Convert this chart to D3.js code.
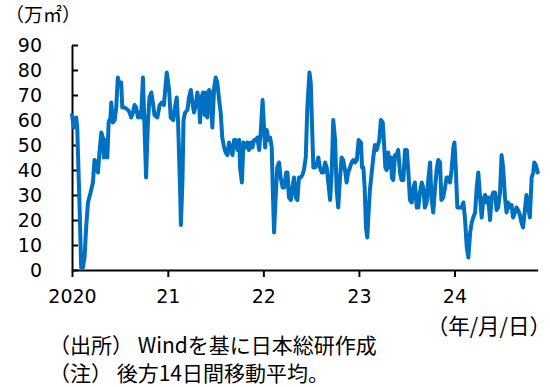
<!DOCTYPE html>
<html>
<head>
<meta charset="utf-8">
<script src="https://cdn.jsdelivr.net/npm/d3@7"></script>
<style>
  html, body { margin: 0; padding: 0; background: #fff; }
  svg { display: block; }
</style>
</head>
<body>
<svg id="chart" width="550" height="387"></svg>
<script>
// Daily transaction area, 14-day trailing moving average (10,000 m²)
const s2020 = [
  ["2020-01-01",62],["2020-01-08",57],["2020-01-17",61],["2020-01-21",57],["2020-01-30",25],
  ["2020-02-05",1],["2020-02-12",1],["2020-02-18",5],["2020-02-24",17],["2020-03-02",27],
  ["2020-03-12",31],["2020-03-21",35],["2020-03-27",44],["2020-04-03",43],["2020-04-09",39],
  ["2020-04-15",47],["2020-04-22",55],["2020-04-28",53],["2020-05-02",45],["2020-05-07",52],
  ["2020-05-15",45],["2020-05-20",59],["2020-05-27",61],["2020-05-30",67],["2020-06-05",59],
  ["2020-06-12",60],["2020-06-18",65],["2020-06-24",77],["2020-07-01",74],["2020-07-07",75],
  ["2020-07-11",65],["2020-07-20",65],["2020-08-02",64],["2020-08-08",63],["2020-08-14",61],
  ["2020-08-21",63],["2020-08-27",66],["2020-09-02",65],["2020-09-09",61],["2020-09-15",63],
  ["2020-09-21",61],["2020-09-28",77],["2020-10-04",57],["2020-10-10",37],["2020-10-17",59],
  ["2020-10-23",69],["2020-10-30",71],["2020-11-05",67],["2020-11-11",62],["2020-11-22",61],
  ["2020-12-01",66],["2020-12-09",67],["2020-12-17",66],["2020-12-28",79]
];
const s2021 = [
  ["2021-01-06",72],["2021-01-12",61],["2021-01-22",60],["2021-01-28",65],["2021-02-04",69],
  ["2021-02-09",60],["2021-02-17",32],["2021-02-20",18],["2021-02-26",36],["2021-03-02",60],
  ["2021-03-08",63],["2021-03-17",64],["2021-03-23",69],["2021-03-30",72],["2021-04-05",67],
  ["2021-04-11",63],["2021-04-18",66],["2021-04-24",71],["2021-05-01",66],["2021-05-04",59],
  ["2021-05-09",69],["2021-05-16",71],["2021-05-22",62],["2021-05-27",71],["2021-06-01",61],
  ["2021-06-08",72],["2021-06-14",71],["2021-06-20",57],["2021-06-27",73],["2021-07-03",77],
  ["2021-07-09",75],["2021-07-16",68],["2021-07-22",63],["2021-07-28",53],["2021-08-04",49],
  ["2021-08-10",47],["2021-08-17",46],["2021-08-23",51],["2021-08-30",48],["2021-09-05",46],
  ["2021-09-11",52],["2021-09-18",52],["2021-09-24",48],["2021-10-01",52],["2021-10-04",41],
  ["2021-10-11",35],["2021-10-17",51],["2021-10-26",49],["2021-11-01",51],["2021-11-07",48],
  ["2021-11-14",51],["2021-11-20",49],["2021-11-27",52],["2021-12-03",52],["2021-12-09",53],
  ["2021-12-16",48],["2021-12-22",55],["2021-12-29",68]
];
const s2022 = [
  ["2022-01-04",56],["2022-01-08",49],["2022-01-14",56],["2022-01-20",52],["2022-01-27",53],
  ["2022-02-02",49],["2022-02-06",32],["2022-02-11",15],["2022-02-17",29],["2022-02-23",41],
  ["2022-03-02",43],["2022-03-08",37],["2022-03-16",33],["2022-03-22",33],["2022-03-29",39],
  ["2022-04-03",39],["2022-04-09",29],["2022-04-16",28],["2022-04-22",33],["2022-04-28",37],
  ["2022-05-05",29],["2022-05-11",28],["2022-05-17",37],["2022-05-24",37],["2022-05-30",38],
  ["2022-06-05",40],["2022-06-12",45],["2022-06-18",65],["2022-06-26",79],["2022-07-01",75],
  ["2022-07-05",61],["2022-07-11",41],["2022-07-17",41],["2022-07-24",42],["2022-07-30",45],
  ["2022-08-05",41],["2022-08-12",39],["2022-08-18",39],["2022-08-25",43],["2022-08-31",41],
  ["2022-09-06",35],["2022-09-13",28],["2022-09-19",39],["2022-09-25",60],["2022-10-02",52],
  ["2022-10-08",32],["2022-10-14",25],["2022-10-21",37],["2022-10-27",45],["2022-11-02",44],
  ["2022-11-09",40],["2022-11-15",35],["2022-11-21",39],["2022-11-28",41],["2022-12-04",43],
  ["2022-12-11",44],["2022-12-17",43],["2022-12-24",44],["2022-12-31",52]
];
const s2023 = [
  ["2023-01-09",51],["2023-01-13",41],["2023-01-18",41],["2023-01-23",33],["2023-01-28",17],
  ["2023-02-02",13],["2023-02-07",23],["2023-02-12",32],["2023-02-19",39],["2023-02-25",45],
  ["2023-03-03",50],["2023-03-10",48],["2023-03-15",50],["2023-03-20",52],["2023-03-26",60],
  ["2023-04-02",59],["2023-04-08",49],["2023-04-12",41],["2023-04-17",40],["2023-04-23",47],
  ["2023-04-27",41],["2023-05-04",45],["2023-05-07",37],["2023-05-12",36],["2023-05-19",46],
  ["2023-05-25",46],["2023-05-31",48],["2023-06-07",39],["2023-06-13",36],["2023-06-20",36],
  ["2023-06-26",48],["2023-07-03",48],["2023-07-09",39],["2023-07-15",28],["2023-07-22",27],
  ["2023-07-28",33],["2023-08-03",35],["2023-08-10",25],["2023-08-16",25],["2023-08-22",31],
  ["2023-08-29",35],["2023-09-04",33],["2023-09-10",25],["2023-09-17",27],["2023-09-23",36],
  ["2023-09-30",43],["2023-10-05",29],["2023-10-12",23],["2023-10-19",33],["2023-10-25",40],
  ["2023-10-31",44],["2023-11-07",43],["2023-11-12",28],["2023-11-19",29],["2023-11-26",33],
  ["2023-12-02",37],["2023-12-08",37],["2023-12-15",35],["2023-12-21",40],["2023-12-28",49]
];
const s2024 = [
  ["2024-01-01",51],["2024-01-06",41],["2024-01-12",25],["2024-01-20",25],["2024-01-29",25],
  ["2024-02-04",27],["2024-02-10",21],["2024-02-17",9],["2024-02-23",5],["2024-03-01",15],
  ["2024-03-07",19],["2024-03-13",21],["2024-03-20",23],["2024-03-26",33],["2024-04-01",39],
  ["2024-04-08",29],["2024-04-14",21],["2024-04-20",28],["2024-04-27",30],["2024-05-03",27],
  ["2024-05-09",29],["2024-05-16",20],["2024-05-22",29],["2024-05-28",31],["2024-06-04",31],
  ["2024-06-10",24],["2024-06-16",25],["2024-06-23",31],["2024-06-29",46],["2024-07-05",41],
  ["2024-07-12",29],["2024-07-18",23],["2024-07-24",27],["2024-07-31",25],["2024-08-06",26],
  ["2024-08-12",21],["2024-08-19",23],["2024-08-25",25],["2024-08-31",24],["2024-09-07",22],
  ["2024-09-13",19],["2024-09-19",17],["2024-09-26",24],["2024-10-02",30],["2024-10-09",25],
  ["2024-10-15",21],["2024-10-22",37],["2024-10-28",39],["2024-11-01",43],["2024-11-07",42],
  ["2024-11-14",39]
];

const yTicks = [0, 10, 20, 30, 40, 50, 60, 70, 80, 90];
const xTickDates = ["2020-01-01", "2021-01-01", "2022-01-01", "2023-01-01", "2024-01-01"];
const xTickLabels = ["2020", "21", "22", "23", "24"];
const unitLabel = "（万㎡）";
const dateLabel = "（年/月/日）";
const notes = ["（出所） Windを基に日本総研作成", "（注） 後方14日間移動平均。"];

const parse = d3.timeParse("%Y-%m-%d");
const data = [...s2020, ...s2021, ...s2022, ...s2023, ...s2024]
  .map(([d, v]) => ({ date: parse(d), value: v }));

const svg = d3.select("#chart");
const plot = { left: 72, right: 537.7, top: 45, bottom: 270 };

const x = d3.scaleTime()
  .domain(d3.extent(data, d => d.date))
  .range([plot.left, plot.right]);
const y = d3.scaleLinear().domain([0, 90]).range([plot.bottom, plot.top]);

const numFont = "'DejaVu Sans', Verdana, sans-serif";
const jpFont = "'Noto Sans CJK JP', 'Noto Sans', sans-serif";

// Y axis: ticks point into the plot
const yAxis = svg.append("g")
  .attr("transform", `translate(${plot.left},0)`)
  .call(d3.axisLeft(y).tickValues(yTicks).tickSizeInner(-6).tickSizeOuter(0).tickPadding(30));
yAxis.select(".domain").attr("stroke", "#000").attr("stroke-width", 2);
yAxis.selectAll(".tick line").attr("stroke", "#000").attr("stroke-width", 2);
yAxis.selectAll(".tick text")
  .attr("font-family", numFont).attr("font-size", 19).attr("fill", "#000");

// X axis: yearly ticks pointing outward
const xAxis = svg.append("g")
  .attr("transform", `translate(0,${plot.bottom})`)
  .call(d3.axisBottom(x)
    .tickValues(xTickDates.map(parse))
    .tickFormat((d, i) => xTickLabels[i])
    .tickSizeInner(7).tickSizeOuter(0).tickPadding(13));
xAxis.select(".domain").attr("stroke", "#000").attr("stroke-width", 2);
xAxis.selectAll(".tick line").attr("stroke", "#000").attr("stroke-width", 2);
xAxis.selectAll(".tick text")
  .attr("font-family", numFont).attr("font-size", 19).attr("fill", "#000");

// Series line
svg.append("path")
  .datum(data)
  .attr("fill", "none")
  .attr("stroke", "#0070C0")
  .attr("stroke-width", 4)
  .attr("stroke-linejoin", "round")
  .attr("stroke-linecap", "round")
  .attr("d", d3.line().x(d => x(d.date)).y(d => y(d.value)));

// Unit label
svg.append("text")
  .attr("x", 5).attr("y", 22)
  .attr("font-family", jpFont).attr("font-size", 19).attr("fill", "#000")
  .text(unitLabel);

// Date format label
svg.append("text")
  .attr("x", 551).attr("y", 334)
  .attr("text-anchor", "end")
  .attr("font-family", jpFont).attr("font-size", 21.5).attr("fill", "#000")
  .text(dateLabel);

// Source and notes
svg.selectAll(".note")
  .data(notes)
  .join("text")
  .attr("class", "note")
  .attr("x", 49).attr("y", (d, i) => 353 + i * 28)
  .attr("font-family", jpFont).attr("font-size", 21).attr("fill", "#000")
  .text(d => d);
</script>
</body>
</html>
